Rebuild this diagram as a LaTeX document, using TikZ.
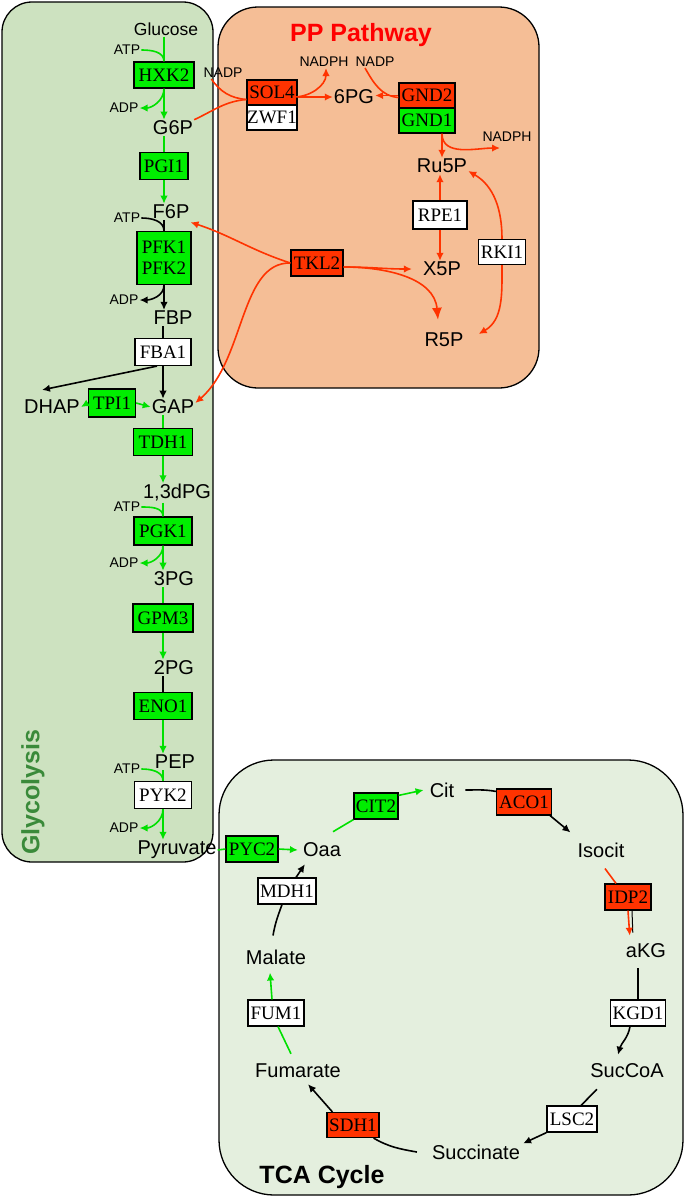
\documentclass[tikz,border=0pt]{standalone}
\usepackage{fontspec}
\setmainfont{Liberation Sans}
\newfontfamily\genefont{Liberation Serif}
\usetikzlibrary{arrows.meta}
\definecolor{glyfill}{HTML}{CDE2C0}
\definecolor{ppfill}{HTML}{F5BE96}
\definecolor{tcafill}{HTML}{E4EFDE}
\definecolor{glytitle}{HTML}{3A8A3A}
\definecolor{upgreen}{HTML}{00EE00}
\definecolor{linegreen}{HTML}{00E000}
\definecolor{downred}{HTML}{FF3300}
\newcommand*{\cofac}[5]{%
\node[cof] (#3in) at (127,#4) {ATP};
\node[cof] (#3out) at (124,#5) {ADP};
\draw[#2] (#3in.east) to[out=0,in=90] (#1.north);
\draw[#2,->] (#1.south) to[out=-90,in=0] (#3out.east);}

\begin{document}
\begin{tikzpicture}[x=1pt, y=1pt,
  >={Latex[length=8pt,width=7.5pt]},
  met/.style={font=\fontsize{20}{22}\selectfont, inner sep=1pt},
  cof/.style={font=\fontsize{14}{16}\selectfont, inner sep=1pt},
  enz/.style={draw, line width=1.2pt, inner sep=0pt, minimum height=26pt,
    font=\genefont\fontsize{19}{22}\selectfont},
  upreg/.style={enz, fill=upgreen},
  downreg/.style={enz, fill=downred},
  noreg/.style={enz, fill=white},
  gline/.style={draw=linegreen, line width=1.6pt},
  rline/.style={draw=downred, line width=1.6pt},
  kline/.style={draw=black, line width=1.6pt},
  panel/.style={draw, line width=1.3pt},
  paneltitle/.style={font=\bfseries\fontsize{25}{28}\selectfont}]

\useasboundingbox (0,0) rectangle (685,-1197);

% compartments
\draw[panel, fill=glyfill, rounded corners=30pt] (2,-2) rectangle (213,-862);
\draw[panel, fill=ppfill, rounded corners=40pt] (218,-7) rectangle (539,-388);
\draw[panel, fill=tcafill, rounded corners=55pt] (219,-760) rectangle (683,-1195);

\node[paneltitle, text=glytitle, rotate=90] (glytxt) at (33,-792) {Glycolysis};
\node[paneltitle, text=red] (pptxt) at (361,-35) {PP Pathway};
\node[paneltitle] (tcatxt) at (322,-1177) {TCA Cycle};

% glycolysis
\node[met, font=\fontsize{17.5}{20}\selectfont] (glc) at (166,-29) {Glucose};
\node[met] (g6p) at (173,-128) {G6P};
\node[met] (f6p) at (171,-212) {F6P};
\node[met] (fbp) at (173,-318) {FBP};
\node[met] (dhap) at (52,-407) {DHAP};
\node[met] (gap) at (173,-407) {GAP};
\node[met] (bpg) at (177,-493) {1,3dPG};
\node[met] (pg3) at (174,-579) {3PG};
\node[met] (pg2) at (174,-668) {2PG};
\node[met] (pep) at (175,-762) {PEP};
\node[met] (pyr) at (177,-850) {Pyruvate};

\node[upreg, minimum width=60pt] (hxk) at (164,-75) {HXK2};
\node[upreg, minimum width=48pt, minimum height=27pt] (pgi) at (164,-166) {PGI1};
\node[upreg, minimum width=54pt, minimum height=53pt, align=center] (pfk) at (164,-258) {PFK1\\[-1pt]PFK2};
\node[noreg, minimum width=56pt, minimum height=27pt] (fba) at (163,-352) {FBA1};
\node[upreg, minimum width=47pt, minimum height=28pt] (tpi) at (112,-403) {TPI1};
\node[upreg, minimum width=59pt, minimum height=27pt] (tdh) at (163,-442) {TDH1};
\node[upreg, minimum width=58pt, minimum height=28pt] (pgk) at (163,-531) {PGK1};
\node[upreg, minimum width=60pt, minimum height=28pt] (gpm) at (163,-618) {GPM3};
\node[upreg, minimum width=58pt, minimum height=27pt] (eno) at (163,-706) {ENO1};
\node[noreg, minimum width=57pt, minimum height=27pt] (pyk) at (163,-795) {PYK2};

\draw[gline] (hxk.north |- glc.south) -- (hxk.north);
\draw[gline,->] (hxk.south) -- (hxk.south |- g6p.north);
\cofac{hxk}{gline}{hx}{-50}{-108}
\draw[gline] (pgi.north |- g6p.south) -- (pgi.north);
\draw[gline,->] (pgi.south) -- (pgi.south |- f6p.north);
\draw[kline] (pfk.north |- f6p.south) -- (pfk.north);
\draw[kline,->] (pfk.south) -- (pfk.south |- fbp.north);
\cofac{pfk}{kline}{pf}{-218}{-300}
\draw[kline] (fba.north |- fbp.south) -- (fba.north);
\draw[kline,->] (fba.south) -- (fba.south |- gap.north);
\draw[kline,->] ([xshift=-6pt]fba.south) -- ([shift={(-10pt,9pt)}]dhap.north);
\draw[gline,->] (tpi.west) -- (dhap.east);
\draw[gline,->] (tpi.east) -- (gap.west);
\draw[gline] (tdh.north |- gap.south) -- (tdh.north);
\draw[gline,->] (tdh.south) -- (tdh.south |- bpg.north);
\draw[gline] (pgk.north |- bpg.south) -- (pgk.north);
\draw[gline,->] (pgk.south) -- (pgk.south |- pg3.north);
\cofac{pgk}{gline}{pk}{-507}{-563}
\draw[gline] (gpm.north |- pg3.south) -- (gpm.north);
\draw[gline,->] (gpm.south) -- (gpm.south |- pg2.north);
\draw[kline] (eno.north |- pg2.south) -- (eno.north);
\draw[gline,->] (eno.south) -- (eno.south |- pep.north);
\draw[gline] (pyk.north |- pep.south) -- (pyk.north);
\draw[gline,->] (pyk.south) -- (pyk.south |- pyr.north);
\cofac{pyk}{gline}{py}{-769}{-828}

% pentose phosphate
\node[met] (pg6) at (354,-97) {6PG};
\node[met] (ru5p) at (442,-166) {Ru5P};
\node[met] (x5p) at (442,-269) {X5P};
\node[met] (r5p) at (444,-340) {R5P};
\node[cof] (nadpa) at (223,-73) {NADP};
\node[cof] (nadpha) at (324,-62) {NADPH};
\node[cof] (nadpb) at (375,-62) {NADP};
\node[cof] (nadphb) at (507,-137) {NADPH};

\node[downreg, minimum width=50pt, minimum height=25pt] (sol) at (272,-92.5) {SOL4};
\node[noreg, minimum width=50pt, minimum height=25pt] (zwf) at (272,-117.5) {ZWF1};
\node[downreg, minimum width=56pt, minimum height=25pt] (gndb) at (427,-95.5) {GND2};
\node[upreg, minimum width=56pt, minimum height=25pt] (gnda) at (427,-120.5) {GND1};
\node[noreg, minimum width=54pt, minimum height=28pt] (rpe) at (440,-215) {RPE1};
\node[noreg, minimum width=47pt, minimum height=25pt] (rki) at (502,-252) {RKI1};
\node[downreg, minimum width=52pt] (tkl) at (317,-263) {TKL2};

\draw[rline] (g6p.north east) to[out=25,in=185] ([yshift=-7pt]sol.west);
\draw[rline] ([xshift=9pt]nadpa.south west) to[out=-55,in=175] ([yshift=-7pt]sol.west);
\draw[rline,->] (sol.east |- pg6) -- (pg6.west);
\draw[rline,->] ([xshift=-4pt]sol.east |- pg6) to[out=0,in=-90] ([xshift=2pt]nadpha.south);
\draw[rline] ([xshift=-10pt]nadpb.south) to[out=-60,in=175] ([yshift=-2pt]gndb.west);
\draw[rline,->] (gndb.west) -- (gndb.west -| pg6.east);
\draw[rline,->] (gnda.south -| ru5p) -- (ru5p.north);
\draw[rline,->] (gnda.south -| ru5p) to[out=-90,in=180] ([shift={(-7pt,-5pt)}]nadphb.south);
\draw[rline,->] (rpe.north) -- (rpe.north |- ru5p.south);
\draw[rline,->] (rpe.south) -- (rpe.south |- x5p.north);
\draw[rline,->] (rki.north) to[out=90,in=-30] ([yshift=-5pt]ru5p.east);
\draw[rline,->] (rki.south) to[out=-90,in=30] ([shift={(14pt,6pt)}]r5p.east);
\draw[rline,->] ([yshift=-4pt]tkl.east) to[out=0,in=180] ([xshift=-10pt]x5p.west);
\draw[rline,-{Latex[length=12pt,width=10pt]}] ([yshift=-4pt]tkl.east) to[out=0,in=95] ([shift={(-6pt,12pt)}]r5p.north);
\draw[rline,->] (tkl.west) to[out=162,in=-18] ([yshift=-2pt]f6p.south east);
\draw[rline,->] (tkl.west) .. controls (240,-262) and (245,-360) .. ([yshift=4pt]gap.east);

% TCA cycle
\node[met] (oaa) at (322,-850) {Oaa};
\node[met] (cit) at (442,-790) {Cit};
\node[met] (icit) at (601,-850) {Isocit};
\node[met] (akg) at (646,-951) {aKG};
\node[met] (succoa) at (627,-1071) {SucCoA};
\node[met] (succ) at (476,-1152) {Succinate};
\node[met] (fum) at (298,-1071) {Fumarate};
\node[met] (mal) at (276,-957) {Malate};

\node[upreg, minimum width=52pt] (pyc) at (252,-849) {PYC2};
\node[upreg, minimum width=44pt] (cs) at (376,-806) {CIT2};
\node[downreg, minimum width=55pt] (aco) at (524,-802) {ACO1};
\node[downreg, minimum width=46pt] (idp) at (628,-897) {IDP2};
\node[noreg, minimum width=55pt] (kgd) at (638,-1013) {KGD1};
\node[noreg, minimum width=50pt] (lsc) at (572,-1119) {LSC2};
\node[downreg, minimum width=52pt, minimum height=25pt] (sdh) at (353,-1125) {SDH1};
\node[noreg, minimum width=56pt] (fumase) at (276,-1013) {FUM1};
\node[noreg, minimum width=58pt] (mdh) at (287,-891) {MDH1};

\draw[gline] (pyr.east) -- (pyc.west);
\draw[gline,->] (pyc.east) -- ([xshift=-4pt]oaa.west);
\draw[gline] ([shift={(11pt,10pt)}]oaa.north) -- (cs.south west);
\draw[gline,->] ([yshift=-3pt]cs.north east) -- ([xshift=-5pt]cit.west);
\draw[kline] ([xshift=10pt]cit.east) to[out=0,in=170] ([yshift=-3pt]aco.north west);
\draw[kline,->] ([xshift=-2pt]aco.south east) -- ([shift={(-6pt,9pt)}]icit.north west);
\draw[rline] ([shift={(4pt,-10pt)}]icit.south) -- ([xshift=-12pt]idp.north);
\draw[kline, line width=1pt] ([xshift=4pt]idp.south) -- ([shift={(8pt,10pt)}]akg.north west);
\draw[rline,->] (idp.south) -- ([shift={(5pt,7pt)}]akg.north west);
\draw[kline, shorten <=9pt] (akg.south -| kgd.north) -- (kgd.north);
\draw[kline,->] ([xshift=-8pt]kgd.south) to[out=-100,in=75] ([shift={(-9pt,8pt)}]succoa.north);
\draw[kline] ([shift={(-30pt,-10pt)}]succoa.south) -- ([xshift=9pt]lsc.north);
\draw[kline,->] (lsc.south west) -- ([xshift=2pt]succ.north east);
\draw[kline] ([xshift=-14pt]succ.west) to[out=170,in=-30] ([xshift=-6pt]sdh.south east);
\draw[kline,->] ([xshift=6pt]sdh.north west) -- ([shift={(10pt,-5pt)}]fum.south);
\draw[gline] ([shift={(-7pt,9pt)}]fum.north) -- ([xshift=2pt]fumase.south);
\draw[gline,->] ([xshift=-4pt]fumase.north) -- ([shift={(-6pt,-7pt)}]mal.south);
\draw[kline] ([shift={(-3pt,13pt)}]mal.north) to[out=80,in=-110] ([xshift=-5pt]mdh.south);
\draw[kline,->] ([xshift=9pt]mdh.north) -- ([shift={(3pt,-6pt)}]oaa.south west);
\end{tikzpicture}
\end{document}
